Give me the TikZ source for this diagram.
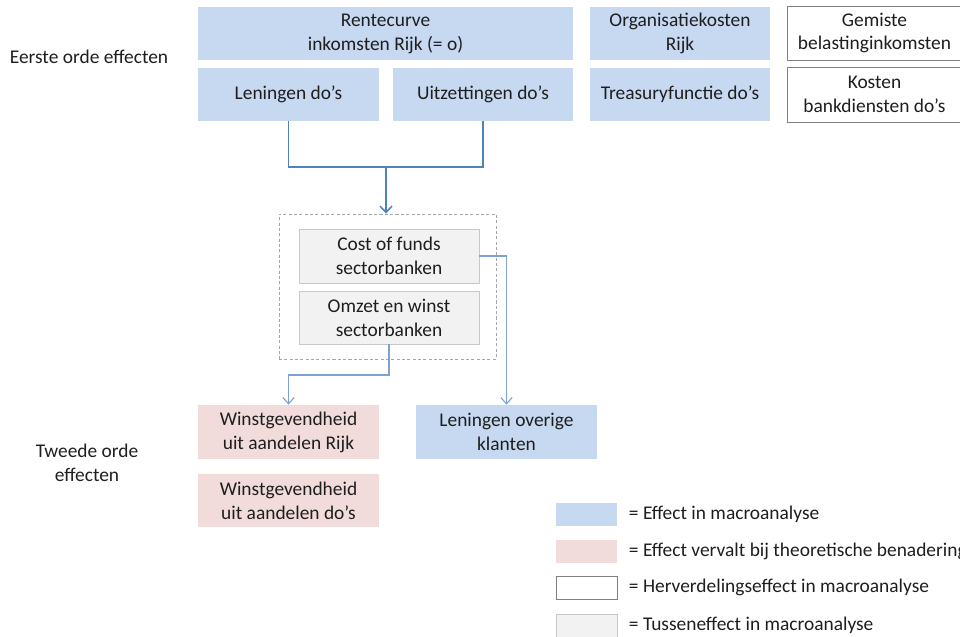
\documentclass[tikz,border=0pt]{standalone}
\usepackage{fontspec}
\setmainfont{Carlito}
\usepackage{xcolor}
\usepackage{tikz}
\usetikzlibrary{calc,arrows.meta}
\definecolor{macro}{HTML}{C6D9F1}
\definecolor{vervalt}{HTML}{F2DCDB}
\definecolor{tussen}{HTML}{F2F2F2}
\definecolor{tusrand}{HTML}{C8C8C8}
\definecolor{rand}{HTML}{808080}
\definecolor{streep}{HTML}{A6A6A6}
\definecolor{lijn}{HTML}{4F81BD}
\definecolor{lijnlicht}{HTML}{7EA1D3}
\definecolor{tekst}{HTML}{1E1E1E}
\tikzset{
  box/.style={rectangle, inner sep=0pt, align=center, text=tekst, font=\fontsize{13.8}{17}\selectfont},
  eff/.style={box, fill=macro},
  weg/.style={box, fill=vervalt},
  herv/.style={box, fill=white, draw=rand, line width=0.6pt},
  tus/.style={box, fill=tussen, draw=tusrand, line width=0.6pt},
  groep/.style={rectangle, inner sep=0pt, draw=streep, dash pattern=on 2.2pt off 1.6pt, line width=0.6pt},
  lab/.style={text=tekst, align=center, font=\fontsize{13.8}{17}\selectfont},
  conn/.style={draw=lijn, line width=0.8pt},
  pijl/.style={draw=lijn, line width=1.1pt, -{Straight Barb[length=4.5pt,width=8.5pt]}},
  pijl2/.style={draw=lijnlicht, line width=0.8pt, -{Straight Barb[length=4.5pt,width=8pt]}},
}

\begin{document}
\begin{tikzpicture}[x=0.025cm, y=-0.025cm]
  \useasboundingbox (0,0) rectangle (960,637);
  \clip (0,0) rectangle (960,637);

  % eerste orde
  \node[lab] (eerste) at (89,57) {Eerste orde effecten};
  \node[eff, minimum width=9.375cm, minimum height=1.325cm] (rente) at (385.5,33.5) {Rentecurve\\inkomsten Rijk (= o)};
  \node[eff, minimum width=4.525cm, minimum height=1.325cm] (lendo) at (288.5,94.5) {Leningen do’s};
  \node[eff, minimum width=4.5cm, minimum height=1.325cm] (uitz) at (483,94.5) {Uitzettingen do’s};
  \node[eff, minimum width=4.5cm, minimum height=1.325cm] (org) at (680,33.5) {Organisatiekosten\\Rijk};
  \node[eff, minimum width=4.5cm, minimum height=1.325cm] (treas) at (680,94.5) {Treasuryfunctie do’s};
  \node[herv, minimum width=4.375cm, minimum height=1.35cm] (gemist) at (874.5,33) {Gemiste\\belastinginkomsten};
  \node[herv, minimum width=4.375cm, minimum height=1.375cm] (kosten) at (874.5,94.5) {Kosten\\bankdiensten do’s};

  % tussen
  \node[groep, minimum width=5.425cm, minimum height=3.625cm] (groep) at (387.5,286.5) {};
  \node[tus, minimum width=4.5cm, minimum height=1.35cm] (cof) at (389,256) {Cost of funds\\sectorbanken};
  \node[tus, minimum width=4.5cm, minimum height=1.325cm] (omzet) at (389,317.5) {Omzet en winst\\sectorbanken};

  % tweede orde
  \node[lab] (tweede) at (87,463) {Tweede orde\\effecten};
  \node[weg, minimum width=4.525cm, minimum height=1.35cm] (winr) at (288.5,432) {Winstgevendheid\\uit aandelen Rijk};
  \node[eff, minimum width=4.525cm, minimum height=1.35cm] (lenov) at (506.5,432) {Leningen overige\\klanten};
  \node[weg, minimum width=4.525cm, minimum height=1.325cm] (wind) at (288.5,500.5) {Winstgevendheid\\uit aandelen do’s};

  % verbindingen
  \coordinate (split) at (386,167);
  \coordinate (knik) at (288.5,375);
  \draw[conn] (lendo.south) |- (split) -| (uitz.south);
  \draw[pijl] (split) -- (split |- groep.north);
  \draw[pijl2] (cof.east) -| (lenov.north);
  \draw[pijl2] (omzet.south) |- (knik) -- (winr.north);

  % legenda
  \node[eff, minimum width=1.525cm, minimum height=0.575cm] (sw1) at (586.5,514.5) {};
  \node[weg, minimum width=1.525cm, minimum height=0.575cm] (sw2) at (586.5,551.5) {};
  \node[herv, minimum width=1.525cm, minimum height=0.575cm] (sw3) at (586.5,587.5) {};
  \node[tus, minimum width=1.525cm, minimum height=0.6cm] (sw4) at (586.5,626) {};
  \node[lab, anchor=west] (lg1) at (624,514) {= Effect in macroanalyse};
  \node[lab, anchor=west] (lg2) at (624,551) {= Effect vervalt bij theoretische benadering};
  \node[lab, anchor=west] (lg3) at (624,587) {= Herverdelingseffect in macroanalyse};
  \node[lab, anchor=west] (lg4) at (624,625) {= Tusseneffect in macroanalyse};
\end{tikzpicture}
\end{document}
